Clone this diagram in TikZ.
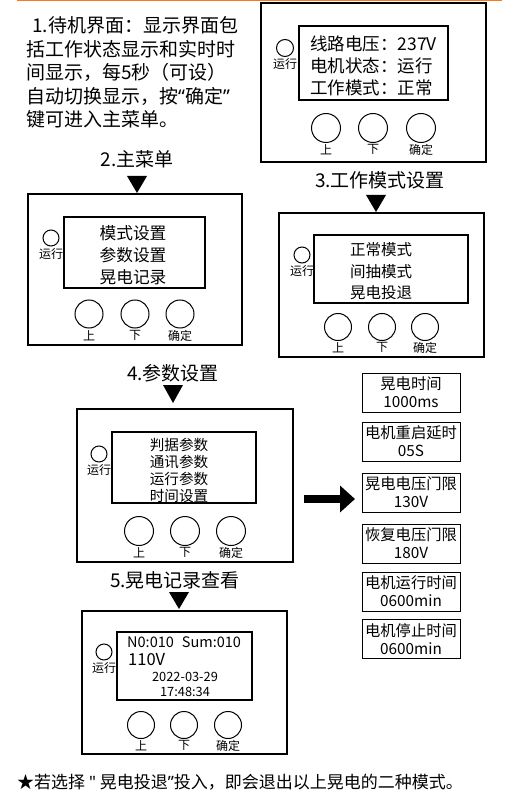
\documentclass[tikz,border=0pt]{standalone}
\usepackage{fontspec}
\setmainfont{Noto Sans CJK SC}
\newfontfamily\qfont{Noto Sans}
\usetikzlibrary{arrows.meta}
\definecolor{topline}{HTML}{F57A1F}
\newcommand\fs[2]{\fontsize{#1}{#2}\selectfont}
\newcommand\oq{{\qfont “}}
\newcommand\cq{{\qfont ”}}

\begin{document}
\begin{tikzpicture}[x=1pt,y=-1pt,
panel/.style={draw,line width=1.3pt,inner sep=0pt},
screen/.style={draw,line width=1.1pt,inner sep=0pt},
btn/.style={circle,draw,line width=1pt,inner sep=0pt,minimum size=28pt,label={[lbl,label distance=1.5pt]below:#1}},
led/.style={circle,draw,line width=1pt,inner sep=0pt,minimum size=16pt,label={[lbl,label distance=1.5pt]below:运行}},
lbl/.style={font=\fs{12}{12},inner sep=0pt},
title/.style={font=\fs{19}{19},inner sep=0pt},
item/.style={draw,line width=1pt,minimum width=98pt,minimum height=39pt,inner sep=0pt,align=center,font=\fs{15.3}{18}}]
\useasboundingbox (0,0) rectangle (505,799);
\draw[topline,line width=1.4pt] (17,0.7)--(502,0.7);
% 1. 待机界面
\node[anchor=west,align=left,font=\fs{19}{23.4},inner sep=0pt] (intro) at (26,72.5)
{\hspace{6pt}1.待机界面：显示界面包\\括工作状态显示和实时时\\间显示，每5秒（可设）\\自动切换显示，按\oq 确定\cq\\键可进入主菜单。};
\node[panel,minimum width=225pt,minimum height=159pt] (p1) at (373.5,82.5) {};
\node[screen,minimum width=149pt,minimum height=74pt] (s1) at (373.5,63) {};
\node[anchor=west,align=left,font=\fs{17.5}{22},inner sep=0pt] (t1) at (310,66) {线路电压：237V\\电机状态：运行\\工作模式：正常};
\node[led,minimum size=17pt] (led1) at (285,48) {};
\node[btn=上,minimum size=29pt] (up1) at (326,128) {}; \node[btn=下,minimum size=29pt] (dn1) at (373,128) {}; \node[btn=确定,minimum size=29pt] (ok1) at (421,128) {};
% 2. 主菜单
\node[title] (h2) at (137,159) {2.主菜单};
\fill (127,176)--(147,176)--(137,193)--cycle;
\node[panel,minimum width=214pt,minimum height=151pt] (p2) at (135,269.5) {};
\node[screen,minimum width=141pt,minimum height=71pt] (s2) at (134.5,252.5) {};
\node[align=center,font=\fs{16.7}{22},inner sep=0pt] (t2) at (133,255) {模式设置\\参数设置\\晃电记录};
\node[led] (led2) at (51,238) {};
\node[btn=上] (up2) at (89,314) {}; \node[btn=下] (dn2) at (135,314) {}; \node[btn=确定] (ok2) at (180,314) {};
% 3. 工作模式设置
\node[title] (h3) at (380,180) {3.工作模式设置};
\fill (366,195)--(386,195)--(376,212)--cycle;
\node[panel,minimum width=205pt,minimum height=144pt] (p3) at (381.5,285) {};
\node[screen,minimum width=154pt,minimum height=68pt] (s3) at (391,269) {};
\node[align=center,font=\fs{15.5}{21.5},inner sep=0pt] (t3) at (381,271.5) {正常模式\\间抽模式\\晃电投退};
\node[led] (led3) at (302,255) {};
\node[btn=上,minimum size=27pt] (up3) at (338,327) {}; \node[btn=下,minimum size=27pt] (dn3) at (382,327) {}; \node[btn=确定,minimum size=27pt] (ok3) at (425,327) {};
% 4. 参数设置
\node[title] (h4) at (173,373) {4.参数设置};
\fill (163,385)--(183,385)--(173,403)--cycle;
\node[panel,minimum width=216pt,minimum height=153pt] (p4) at (185,485.5) {};
\node[screen,minimum width=144pt,minimum height=71pt] (s4) at (184,467.5) {};
\node[align=center,font=\fs{14.6}{17},inner sep=0pt] (t4) at (179,470.5) {判据参数\\通讯参数\\运行参数\\时间设置};
\node[led] (led4) at (99,454) {};
\node[btn=上,minimum size=29pt] (up4) at (139,531) {}; \node[btn=下,minimum size=29pt] (dn4) at (185,531) {}; \node[btn=确定,minimum size=29pt] (ok4) at (231,531) {};
\coordinate (a0) at (304,499); \coordinate (a1) at (355,499);
\draw[line width=8pt,-{Triangle[length=15pt,width=26pt]}] (a0)--(a1);
\node[item] (b1) at (411,392.5) {晃电时间\\1000ms};
\node[item] (b2) at (411,441.5) {电机重启延时\\05S};
\node[item] (b3) at (411,492.5) {晃电电压门限\\130V};
\node[item] (b4) at (411,543.5) {恢复电压门限\\180V};
\node[item] (b5) at (411,591.5) {电机运行时间\\0600min};
\node[item] (b6) at (411,639) {电机停止时间\\0600min};
% 5. 晃电记录查看
\node[title] (h5) at (175,580) {5.晃电记录查看};
\fill (169,592)--(189,592)--(179,609)--cycle;
\node[panel,minimum width=205pt,minimum height=143pt] (p5) at (184.5,682.5) {};
\node[screen,minimum width=135pt,minimum height=68pt] (s5) at (184.5,666) {};
\node[anchor=west,font=\fs{14.5}{14.5},inner sep=0pt] (rec) at (127,642) {N0:010\hspace{8pt}Sum:010};
\node[anchor=west,font=\fs{16.5}{16.5},inner sep=0pt] (volt) at (128,660) {110V};
\node[align=center,font=\fs{12.8}{15},inner sep=0pt] (when) at (185,684.5) {2022-03-29\\17:48:34};
\node[led] (led5) at (104,652) {};
\node[btn=上,minimum size=27pt] (up5) at (141,725) {}; \node[btn=下,minimum size=27pt] (dn5) at (184,725) {}; \node[btn=确定,minimum size=27pt] (ok5) at (228,725) {};
\node[anchor=west,font=\fs{17}{17},inner sep=0pt] (note) at (17,782) {★若选择 {\qfont "} 晃电投退\cq 投入，即会退出以上晃电的二种模式。};
\end{tikzpicture}
\end{document}
